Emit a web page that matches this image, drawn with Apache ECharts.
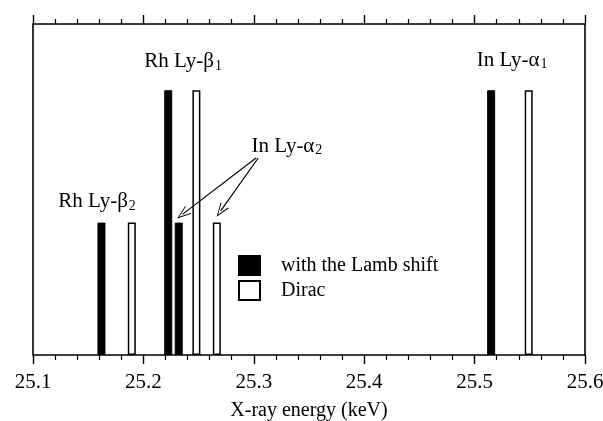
<!DOCTYPE html>
<html>
<head>
<meta charset="utf-8">
<script src="https://cdn.jsdelivr.net/npm/echarts@6/dist/echarts.min.js"></script>
<style>
  html, body { margin: 0; padding: 0; background: #fff; }
  #chart { width: 603px; height: 421px; }
</style>
</head>
<body>
<div id="chart"></div>
<script>
// line energies (keV) and relative heights
var lambEnergy = [25.162, 25.2225, 25.232, 25.515];
var lambHeight = [0.5, 1, 0.5, 1];
var diracEnergy = [25.1895, 25.248, 25.2665, 25.549];
var diracHeight = [0.5, 1, 0.5, 1];
var xTicks = [25.1, 25.2, 25.3, 25.4, 25.5, 25.6];

var font = 'Liberation Serif';

var lambData = lambEnergy.map(function (e, i) { return [e, lambHeight[i]]; });
var diracData = diracEnergy.map(function (e, i) { return [e, diracHeight[i]]; });

// text label anchored at a data point
function lbl(coord, main, sub) {
  return {
    coord: coord,
    symbolSize: 0,
    label: {
      show: true,
      position: 'inside',
      formatter: '{m|' + main + '}{s|' + sub + '}',
      rich: {
        m: { fontFamily: font, fontSize: 21, color: '#000' },
        s: { fontFamily: font, fontSize: 14, color: '#000', padding: [9, 0, 0, 1] }
      }
    }
  };
}

var chart = echarts.init(document.getElementById('chart'));
var baseX = {
  type: 'value', min: 25.1, max: 25.6, interval: 0.1,
  axisLine: { show: true, onZero: false, lineStyle: { color: '#000', width: 1.6 } },
  axisTick: { show: true, length: 9, lineStyle: { color: '#000', width: 1.4 } },
  minorTick: { show: true, splitNumber: 5, length: 5, lineStyle: { color: '#000', width: 1.2 } },
  splitLine: { show: false }
};
chart.setOption({
  backgroundColor: '#fff',
  animation: false,
  grid: { left: 33, right: 18, top: 24, bottom: 66, containLabel: false, outerBoundsMode: 'none' },
  legend: {
    orient: 'vertical', left: 238, top: 255, padding: 0,
    itemWidth: 21, itemHeight: 19, itemGap: 4,
    icon: 'rect',
    textStyle: { fontFamily: font, fontSize: 20, color: '#000', padding: [0, 0, 0, 16] },
    data: ['with the Lamb shift', 'Dirac']
  },
  xAxis: [
    Object.assign({}, baseX, {
      position: 'bottom',
      axisLabel: {
        fontFamily: font, fontSize: 21, color: '#000', margin: 17,
        formatter: function (v) { return xTicks.indexOf(Math.round(v * 10) / 10) >= 0 ? v.toFixed(1) : ''; }
      },
      name: 'X-ray energy (keV)', nameLocation: 'middle', nameGap: 46,
      nameTextStyle: { fontFamily: font, fontSize: 20, color: '#000' }
    }),
    Object.assign({}, baseX, { position: 'top', axisLabel: { show: false } })
  ],
  yAxis: [
    { type: 'value', min: 0, max: 1.25, position: 'left', axisLine: { show: true, lineStyle: { color: '#000', width: 1.6 } },
      axisTick: { show: false }, axisLabel: { show: false }, splitLine: { show: false } },
    { type: 'value', min: 0, max: 1.25, position: 'right', axisLine: { show: true, lineStyle: { color: '#000', width: 1.6 } },
      axisTick: { show: false }, axisLabel: { show: false }, splitLine: { show: false } }
  ],
  series: [
    {
      name: 'with the Lamb shift', type: 'bar', barWidth: 8, barGap: '-100%',
      itemStyle: { color: '#000', borderColor: '#000', borderWidth: 1 },
      data: lambData,
      markPoint: {
        symbol: 'circle',
        data: [
          lbl([25.236, 1.107], 'Rh Ly-β', '1'),
          lbl([25.534, 1.114], 'In Ly-α', '1'),
          lbl([25.158, 0.578], 'Rh Ly-β', '2'),
          lbl([25.330, 0.789], 'In Ly-α', '2')
        ]
      },
      markLine: {
        silent: true,
        symbol: ['none', 'path://M0,0 L-6,14 L-4.8,14 L0,2.5 L4.8,14 L6,14 Z'],
        symbolSize: [10, 14],
        lineStyle: { color: '#000', width: 1.2, type: 'solid' },
        label: { show: false },
        data: [
          [{ coord: [25.302, 0.744] }, { coord: [25.2356, 0.532] }],
          [{ coord: [25.304, 0.744] }, { coord: [25.270, 0.544] }]
        ]
      }
    },
    {
      name: 'Dirac', type: 'bar', barWidth: 8, barGap: '-100%',
      itemStyle: { color: '#fff', borderColor: '#000', borderWidth: 1.5 },
      data: diracData
    }
  ]
});
</script>
</body>
</html>
